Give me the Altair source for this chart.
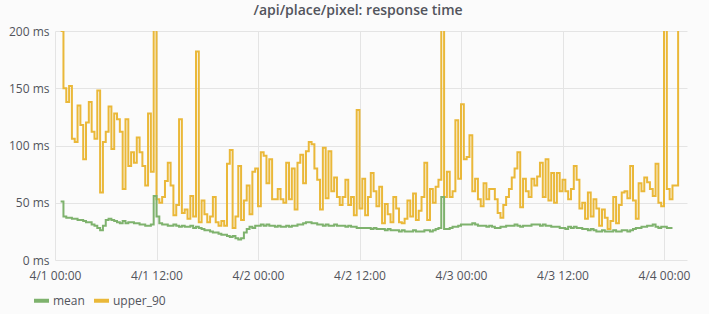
import altair as alt
import pandas as pd

# ---- data (20-minute samples starting 4/1 00:40) ----
START = "2017-04-01 00:40"
SERIES = ["mean", "upper_90"]
COLORS = ["#7EB26D", "#EAB839"]
TICK_HOURS = [0, 12, 24, 36, 48, 60, 72]

upper_90_a = [200, 150, 138, 152, 106, 103, 135, 118, 88, 120, 138, 112, 106, 148, 59, 103, 112, 134,
              97, 128, 123, 112, 62, 123, 82, 94, 85, 107, 94, 82, 65, 128, 77, 205, 53, 50]
upper_90_b = [55, 69, 85, 65, 39, 48, 123, 41, 44, 36, 56, 38, 182, 33, 52, 40, 33, 38,
              55, 33, 30, 34, 30, 84, 96, 28, 38, 82, 35, 52, 65, 40, 77, 80, 47, 94]
upper_90_c = [91, 67, 88, 53, 53, 62, 53, 50, 85, 53, 80, 44, 85, 92, 67, 95, 103, 101,
              80, 70, 44, 98, 54, 95, 60, 72, 55, 48, 55, 70, 48, 55, 39, 131, 45, 71]
upper_90_d = [39, 55, 76, 60, 47, 64, 32, 49, 40, 33, 55, 45, 33, 32, 36, 52, 38, 58,
              35, 43, 55, 85, 35, 62, 50, 64, 70, 215, 55, 77, 55, 60, 122, 71, 136, 88]
upper_90_e = [90, 109, 60, 71, 53, 47, 67, 53, 62, 62, 53, 41, 37, 48, 55, 62, 72, 80,
              94, 46, 71, 60, 55, 71, 65, 73, 85, 55, 88, 52, 76, 50, 76, 60, 70, 60]
upper_90_f = [53, 62, 82, 70, 45, 50, 36, 59, 38, 53, 45, 30, 44, 37, 27, 34, 55, 32,
              48, 59, 60, 54, 82, 52, 36, 67, 60, 72, 68, 62, 56, 84, 50, 47, 240, 62]
upper_90_g = [53, 65, 65, 260]

mean_a = [51, 38, 37, 37, 36, 36, 35, 35, 34, 33, 33, 31, 30, 28, 26, 30, 35, 36,
          35, 34, 33, 32, 34, 32, 33, 33, 32, 32, 31, 31, 30, 30, 31, 56, 38, 32]
mean_b = [31, 31, 30, 30, 31, 30, 29, 30, 29, 29, 30, 28, 29, 28, 27, 26, 26, 25,
          24, 24, 23, 22, 22, 21, 20, 21, 19, 18, 19, 24, 27, 29, 28, 30, 30, 31]
mean_c = [30, 31, 30, 30, 29, 30, 29, 29, 30, 29, 30, 30, 31, 31, 32, 33, 33, 32,
          32, 31, 31, 30, 31, 30, 30, 31, 30, 30, 30, 29, 30, 29, 29, 28, 28, 28]
mean_d = [28, 28, 27, 28, 27, 27, 27, 26, 27, 26, 26, 26, 25, 26, 25, 25, 25, 26,
          25, 25, 25, 26, 26, 25, 26, 27, 28, 55, 27, 27, 28, 29, 29, 30, 31, 31]
mean_e = [31, 31, 32, 31, 30, 30, 30, 29, 30, 29, 28, 28, 29, 29, 30, 30, 30, 31,
          30, 29, 30, 30, 30, 31, 31, 31, 30, 31, 30, 30, 29, 29, 29, 28, 28, 27]
mean_f = [29, 28, 29, 28, 28, 27, 27, 26, 27, 26, 25, 25, 26, 25, 25, 25, 26, 25,
          25, 26, 26, 25, 26, 27, 28, 28, 29, 29, 30, 30, 31, 29, 28, 29, 29, 28]
mean_g = [28, 28]

upper_90 = upper_90_a + upper_90_b + upper_90_c + upper_90_d + upper_90_e + upper_90_f + upper_90_g
mean = mean_a + mean_b + mean_c + mean_d + mean_e + mean_f + mean_g


def frame(values, name):
    t = pd.date_range(START, periods=len(values), freq="20min")
    return pd.DataFrame({"time": t.strftime("%Y-%m-%dT%H:%M:%S"), "value": values, "series": name})


df = pd.concat([frame(upper_90, "upper_90"), frame(mean, "mean")], ignore_index=True)

FONT = "Open Sans"
TEXT = "#52545c"
GRID = "#e4e4e4"

tick_values = [alt.DateTime(year=2017, month=4, date=1 + h // 24, hours=h % 24) for h in TICK_HOURS]

chart = alt.Chart(df).mark_line(interpolate="step-after", strokeWidth=2, clip=True).encode(
    x=alt.X(
        "time:T",
        scale=alt.Scale(domain=[alt.DateTime(year=2017, month=4, date=1, hours=0),
                                alt.DateTime(year=2017, month=4, date=4, hours=2, minutes=43)]),
        axis=alt.Axis(values=tick_values, format="%-m/%-d %H:%M", title=None, grid=True,
                      gridColor=GRID, domain=False, ticks=False, labelPadding=10,
                      labelFontSize=12, labelColor=TEXT, labelFont=FONT, labelFlush=False),
    ),
    y=alt.Y(
        "value:Q",
        scale=alt.Scale(domain=[0, 200], nice=False, zero=True),
        axis=alt.Axis(values=[0, 50, 100, 150, 200], labelExpr="datum.value + ' ms'", title=None,
                      grid=True, gridColor=GRID, domain=False, ticks=False, labelPadding=6,
                      labelFontSize=12, labelColor=TEXT, labelFont=FONT),
    ),
    color=alt.Color(
        "series:N",
        scale=alt.Scale(domain=SERIES, range=COLORS),
        legend=alt.Legend(title=None, orient="none", legendX=-23, legendY=260, direction="horizontal",
                          symbolType="stroke", symbolStrokeWidth=4, symbolSize=225,
                          labelFontSize=12, labelFont=FONT, labelColor=TEXT, labelOffset=2,
                          columnPadding=1, padding=0),
    ),
    order=alt.Order("series:N", sort="descending"),
).properties(
    width=632,
    height=229,
    title=alt.TitleParams("/api/place/pixel: response time", fontSize=14, fontWeight=600,
                          color=TEXT, font=FONT, anchor="middle", dx=-13, offset=7),
    autosize=alt.AutoSizeParams(type="none"),
    padding={"left": 55, "top": 31, "right": 22, "bottom": 54},
    background="#fbfbfb",
).configure_view(stroke=None)

chart.save("out.html", embed_options={"renderer": "svg", "actions": False})
